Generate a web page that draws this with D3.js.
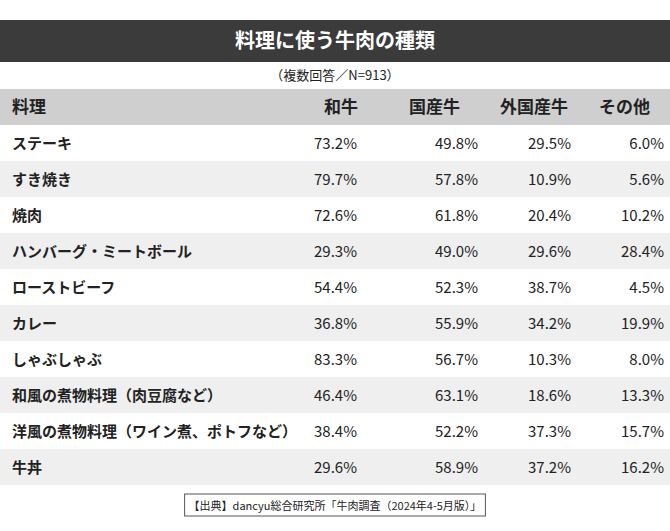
<!DOCTYPE html>
<html><head><meta charset="utf-8">
<script src="https://cdn.jsdelivr.net/npm/d3@7"></script>
<style>body{margin:0;background:#fff}</style>
</head><body>
<script>
// table data
var headers = ["料理", "和牛", "国産牛", "外国産牛", "その他"];
var dishes = ["ステーキ", "すき焼き", "焼肉", "ハンバーグ・ミートボール", "ローストビーフ", "カレー", "しゃぶしゃぶ", "和風の煮物料理（肉豆腐など）", "洋風の煮物料理（ワイン煮、ポトフなど）", "牛丼"];
var wagyu = [73.2, 79.7, 72.6, 29.3, 54.4, 36.8, 83.3, 46.4, 38.4, 29.6];
var kokusan = [49.8, 57.8, 61.8, 49.0, 52.3, 55.9, 56.7, 63.1, 52.2, 58.9];
var gaikoku = [29.5, 10.9, 20.4, 29.6, 38.7, 34.2, 10.3, 18.6, 37.3, 37.2];
var sonota = [6.0, 5.6, 10.2, 28.4, 4.5, 19.9, 8.0, 13.3, 15.7, 16.2];

var W = 670, H = 531;
var font = "'Noto Sans CJK JP', sans-serif";
var svg = d3.select("body").append("svg").attr("width", W).attr("height", H)
	.style("font-family", font);

svg.append("rect").attr("x", 0).attr("y", 20).attr("width", W).attr("height", 42).attr("fill", "#3b3b3b");
svg.append("text").attr("x", W / 2).attr("y", 48).attr("text-anchor", "middle")
	.attr("fill", "#fff").attr("font-size", 20).attr("font-weight", "bold").text("料理に使う牛肉の種類");
svg.append("text").attr("x", W / 2).attr("y", 80).attr("text-anchor", "middle")
	.attr("fill", "#222").attr("font-size", 13).text("（複数回答／N=913）");

var y = d3.scaleBand().domain(d3.range(dishes.length + 1)).range([89, 485]);
var headX = [12, 358, 460, 568, 650];
var valX = [12, 357, 478, 571, 664];

svg.append("rect").attr("x", 0).attr("y", y(0)).attr("width", W).attr("height", y.bandwidth()).attr("fill", "#cfcfcf");
svg.selectAll("text.h").data(headers).join("text").attr("class", "h")
	.attr("x", (d, i) => headX[i]).attr("y", y(0) + y.bandwidth() / 2 + 6)
	.attr("text-anchor", (d, i) => i ? "end" : "start")
	.attr("font-size", 17).attr("font-weight", "bold").attr("fill", "#222").text(d => d);

var rows = svg.selectAll("g.r").data(dishes).join("g").attr("class", "r")
	.attr("transform", (d, i) => "translate(0," + y(i + 1) + ")");
rows.append("rect").attr("width", W).attr("height", y.bandwidth())
	.attr("fill", (d, i) => i % 2 ? "#efefef" : "#fff");
rows.each(function(d, i) {
	var vals = [d, wagyu[i], kokusan[i], gaikoku[i], sonota[i]];
	d3.select(this).selectAll("text").data(vals).join("text")
		.attr("x", (v, j) => valX[j]).attr("y", y.bandwidth() / 2 + 6)
		.attr("text-anchor", (v, j) => j ? "end" : "start")
		.attr("font-size", (v, j) => j ? 15 : 15).attr("font-weight", (v, j) => j ? "normal" : "bold")
		.attr("fill", "#222")
		.text((v, j) => j ? v.toFixed(1) + "%" : v);
});

var foot = svg.append("text").attr("x", W / 2).attr("y", 510).attr("text-anchor", "middle")
	.attr("font-size", 11).attr("fill", "#222").text("【出典】dancyu総合研究所「牛肉調査（2024年4-5月版）」");
var bb = foot.node().getBBox();
svg.append("rect").attr("x", bb.x - 4).attr("y", bb.y - 3).attr("width", bb.width + 8).attr("height", bb.height + 6)
	.attr("fill", "none").attr("stroke", "#555").attr("stroke-width", 1);
</script>
</body></html>
